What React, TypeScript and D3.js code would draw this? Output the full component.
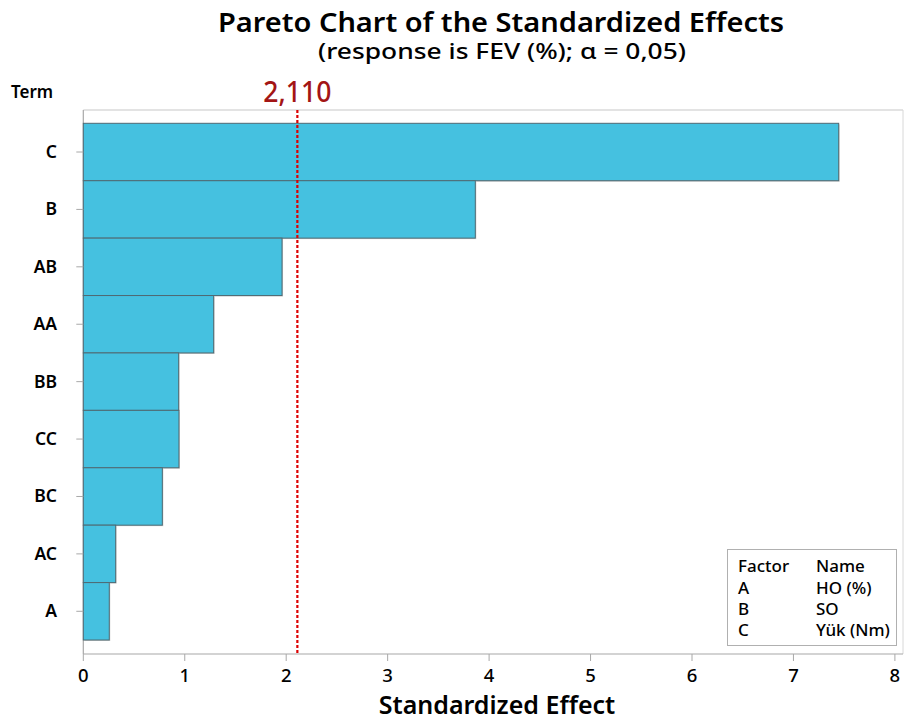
import React from "react";
import * as d3 from "d3";

const terms = ["C", "B", "AB", "AA", "BB", "CC", "BC", "AC", "A"];
const effects = [7.446, 3.864, 1.959, 1.285, 0.94, 0.943, 0.779, 0.319, 0.256];
const xTicks = [0, 1, 2, 3, 4, 5, 6, 7, 8];
const refValue = 2.11;
const refLabel = "2,110";
const legendFactors = ["A", "B", "C"];
const legendNames = ["HO (%)", "SO", "Yük (Nm)"];

const W = 904;
const H = 722;
const FONT = "'Noto Sans', 'Open Sans', sans-serif";

export default function App() {
  const left = 83.3;
  const top = 110;
  const bottom = 654;
  const right = 903;
  const x = d3.scaleLinear().domain([0, 8]).range([left, left + 8 * 101.45]);
  const y = d3.scaleBand<string>().domain(terms).range([123.3, 640]).padding(0);
  const refX = x(refValue);

  return (
    <svg width={W} height={H} style={{ position: "absolute", left: 0, top: 0, background: "#fff" }} fontFamily={FONT}>
      <rect x={0} y={0} width={W} height={H} fill="#fff" />
      <text x={501} y={32} textAnchor="middle" fontSize={27} fontWeight={600} fill="#000" textLength={566} lengthAdjust="spacingAndGlyphs">
        Pareto Chart of the Standardized Effects
      </text>
      <text x={502} y={59} textAnchor="middle" fontSize={22} fontWeight={500} fill="#000" textLength={368} lengthAdjust="spacingAndGlyphs">
        (response is FEV (%); α = 0,05)
      </text>
      <text x={11} y={98} fontSize={17} fontWeight={600} fill="#000">Term</text>

      {/* frame */}
      <line x1={left} x2={right} y1={top} y2={top} stroke="#c8c8c8" strokeWidth={1.2} />
      <line x1={right} x2={right} y1={top} y2={bottom} stroke="#d8d8d8" strokeWidth={1} />
      <line x1={left} x2={left} y1={top} y2={bottom} stroke="#a8a8a8" strokeWidth={1.2} />
      <line x1={left} x2={right} y1={bottom} y2={bottom} stroke="#a8a8a8" strokeWidth={1.2} />

      {/* bars */}
      {terms.map((t, i) => (
        <g key={t}>
          <rect x={x(0) + 1} y={(y(t) as number) + 1} width={x(effects[i]) - x(0)} height={y.bandwidth()} fill="#cfcfcf" />
          <rect x={x(0)} y={y(t) as number} width={x(effects[i]) - x(0)} height={y.bandwidth()} fill="#45C1E0" stroke="#4f6a73" strokeWidth={1} />
        </g>
      ))}

      {/* y ticks and labels */}
      {terms.map((t) => {
        const cy = (y(t) as number) + y.bandwidth() / 2;
        return (
          <g key={"yt" + t}>
            <line x1={left - 7} x2={left} y1={cy} y2={cy} stroke="#a8a8a8" strokeWidth={1} />
            <text x={57} y={cy + 6} textAnchor="end" fontSize={17.5} fontWeight={600} fill="#000">{t}</text>
          </g>
        );
      })}

      {/* x ticks */}
      {xTicks.map((v) => (
        <g key={"xt" + v}>
          <line x1={x(v)} x2={x(v)} y1={bottom} y2={bottom + 7} stroke="#a8a8a8" strokeWidth={1} />
          <text x={x(v)} y={682} textAnchor="middle" fontSize={18.5} fontWeight={500} fill="#000">{v}</text>
        </g>
      ))}
      <text x={497} y={714} textAnchor="middle" fontSize={25} fontWeight={600} fill="#000">Standardized Effect</text>

      {/* reference line */}
      <line x1={refX} x2={refX} y1={top} y2={bottom} stroke="#dd0000" strokeWidth={2.2} strokeDasharray="3,2" />
      <text x={refX} y={102} textAnchor="middle" fontSize={29} fontWeight={500} fill="#a31515" textLength={68} lengthAdjust="spacingAndGlyphs">{refLabel}</text>

      {/* legend */}
      <rect x={727.5} y={549.5} width={169} height={96} fill="#fff" stroke="#b0b0b0" strokeWidth={1} />
      <text x={738} y={572} fontSize={17} fontWeight={500} fill="#000">Factor</text>
      <text x={816} y={572} fontSize={17} fontWeight={500} fill="#000">Name</text>
      {legendFactors.map((f, i) => (
        <g key={"lg" + f}>
          <text x={738} y={593.5 + i * 21.3} fontSize={17} fontWeight={500} fill="#000">{f}</text>
          <text x={816} y={593.5 + i * 21.3} fontSize={17} fontWeight={500} fill="#000">{legendNames[i]}</text>
        </g>
      ))}
    </svg>
  );
}
